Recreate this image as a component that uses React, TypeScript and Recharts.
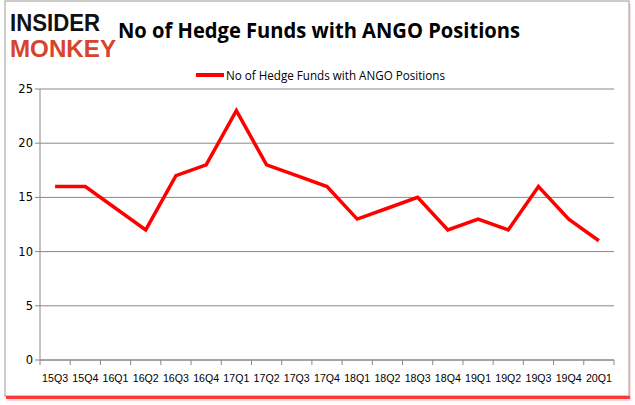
import React from "react";
import { LineChart, Line, XAxis, YAxis, CartesianGrid } from "recharts";

const quarters = ["15Q3","15Q4","16Q1","16Q2","16Q3","16Q4","17Q1","17Q2","17Q3","17Q4","18Q1","18Q2","18Q3","18Q4","19Q1","19Q2","19Q3","19Q4","20Q1"];
const funds = [16,16,14,12,17,18,23,18,17,16,13,14,15,12,13,12,16,13,11];
const yTicks = [0,5,10,15,20,25];
const title = "No of Hedge Funds with ANGO Positions";
const seriesName = "No of Hedge Funds with ANGO Positions";

const data = quarters.map((q, i) => ({ q, v: funds[i] }));

const W = 635, H = 405;
const plotLeft = 40, plotRight = 614;
const step = (plotRight - plotLeft) / quarters.length;

const XTick = (props: any) => {
  const { x, y, payload, index } = props;
  return (
    <g>
      <line x1={x - step / 2} y1={y - 8} x2={x - step / 2} y2={y - 3} stroke="#888" />
      {index === quarters.length - 1 && (
        <line x1={x + step / 2} y1={y - 8} x2={x + step / 2} y2={y - 3} stroke="#888" />
      )}
      <text x={x} y={y + 14} textAnchor="middle" fontSize={11.5} fill="#000" fontFamily="Liberation Sans, Arial, sans-serif" textLength={26} lengthAdjust="spacingAndGlyphs">
        {payload.value}
      </text>
    </g>
  );
};

export default function App() {
  return (
    <div style={{ position: "fixed", left: 0, top: 0, width: W, height: H, background: "#fff" }}>
      <svg width={W} height={H} style={{ position: "absolute", left: 0, top: 0 }}>
        <rect x={7} y={4} width={624} height={397} fill="#ffb3b3" opacity={0.5} />
        <rect x={5} y={1} width={624} height={395} fill="#fff" stroke="#999" strokeWidth={1} />
        <line x1={6} y1={397.5} x2={630} y2={397.5} stroke="#ff2020" strokeWidth={3} opacity={0.85} />
        <text x={10} y={31} fontSize={23} fontWeight={900} fill="#111" fontFamily="Liberation Sans, Arial, sans-serif" textLength={90} lengthAdjust="spacingAndGlyphs">INSIDER</text>
        <text x={10} y={57} fontSize={23} fontWeight={900} fill="#d8432c" fontFamily="Liberation Sans, Arial, sans-serif" textLength={106} lengthAdjust="spacingAndGlyphs">MONKEY</text>
        <text x={118} y={38} fontSize={22} fontWeight={700} fill="#000" fontFamily="Open Sans, Liberation Sans, sans-serif" textLength={402} lengthAdjust="spacingAndGlyphs">{title}</text>
        <line x1={196} y1={75} x2={224} y2={75} stroke="#ff0000" strokeWidth={4} />
        <text x={226} y={80} fontSize={12.5} fill="#000" fontFamily="Open Sans, Liberation Sans, sans-serif" textLength={219} lengthAdjust="spacingAndGlyphs">{seriesName}</text>
      </svg>
      <div style={{ position: "absolute", left: 0, top: 0 }}>
        <LineChart width={W} height={H} data={data} margin={{ top: 89, right: W - plotRight, bottom: 15, left: 10 }}>
          <CartesianGrid vertical={false} stroke="#888" />
          <XAxis dataKey="q" interval={0} tickLine={false} axisLine={{ stroke: "#888" }} tick={<XTick />} height={30} padding={{ left: step / 2, right: step / 2 }} />
          <YAxis domain={[0, 25]} ticks={yTicks} width={30} axisLine={{ stroke: "#888" }} tickLine={{ stroke: "#888" }} tickSize={5} tick={{ fontSize: 11.5, fill: "#000", fontFamily: "DejaVu Sans, Verdana, sans-serif" }} />
          <Line dataKey="v" name={seriesName} stroke="#ff0000" strokeWidth={3.5} dot={false} isAnimationActive={false} />
        </LineChart>
      </div>
    </div>
  );
}
